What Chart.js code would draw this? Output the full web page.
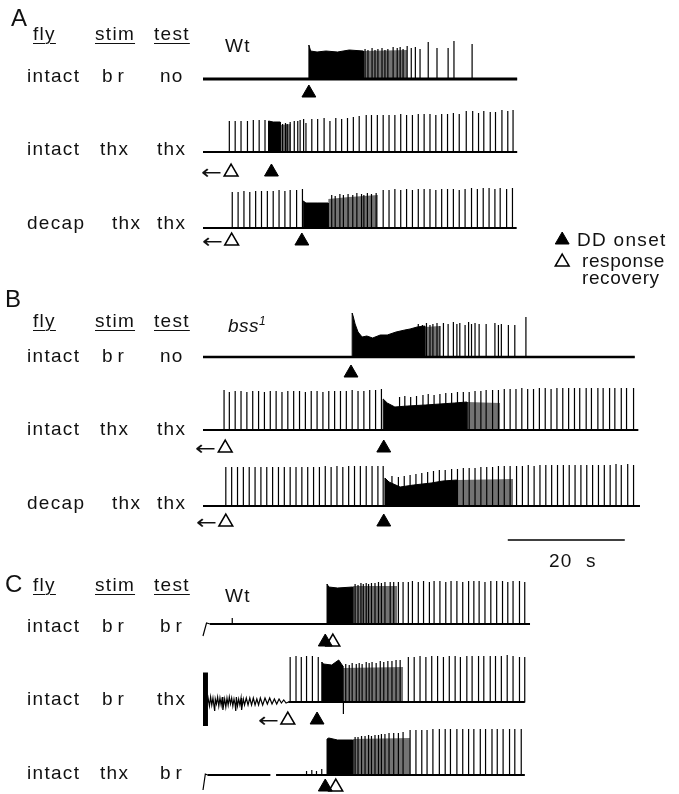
<!DOCTYPE html>
<html>
<head>
<meta charset="utf-8">
<script src="https://cdn.jsdelivr.net/npm/chart.js@4/dist/chart.umd.min.js"></script>
<style>
  html, body { margin: 0; padding: 0; background: #fff; }
  #wrap { position: relative; width: 679px; height: 794px; overflow: hidden; }
  #c { position: absolute; left: 0; top: 0; }
  .t { position: absolute; font-family: "Liberation Sans", Arial, sans-serif; color: #111;
       white-space: nowrap; line-height: 1; letter-spacing: 1.3px; }
  .u { text-decoration: underline; text-underline-offset: 3px; text-decoration-thickness: 1.3px; }
  .it { font-style: italic; letter-spacing: 0.5px; }
  .arrow { font-family: "DejaVu Sans", sans-serif; letter-spacing: 0; transform: scaleX(1.25); transform-origin: left center; }
</style>
</head>
<body>
<div id="wrap"><canvas id="c" width="679" height="794"></canvas></div>
<script>
// time in s from the start of each trace, heights in trace units (up = positive)

// row labels
const rowFly  = ['intact', 'intact', 'decap', 'intact', 'intact', 'decap', 'intact', 'intact', 'intact'];
const rowStim = ['br', 'thx', 'thx', 'br', 'thx', 'thx', 'br', 'br', 'thx'];
const rowTest = ['no', 'thx', 'thx', 'no', 'thx', 'thx', 'br', 'thx', 'br'];
const panels  = ['A', 'B', 'C'];
const genotypes = ['Wt', 'bss', 'Wt'];

// --- A: Wt ---
const a1Burst = [[18.1, 34], [18.4, 28], [19.5, 27], [21, 28], [23, 27], [25, 29], [27.4, 28]];
const a1Grey = [[27.4, 28], [34.9, 29]];
const a1Spikes = [[27.7, 30], [28.2, 29], [28.9, 31], [29.4, 29], [29.9, 30], [30.6, 31], [31.1, 29], [31.6, 30],
  [32.5, 32], [33.2, 31], [33.7, 32], [34.2, 30], [34.9, 33], [35.6, 31], [36.3, 32], [37.1, 30], [38.5, 37],
  [40.0, 31], [41.9, 31], [42.9, 38], [46.0, 35]];

const a2Burst = [[11.2, 31], [12, 30], [13.2, 30]];
const a2Grey = [[13.2, 27], [15.0, 28]];
const a2Spikes = [[4.5, 31], [5.5, 31], [6.5, 31], [7.6, 31], [8.6, 32], [9.6, 32], [10.6, 32], [13.6, 28],
  [14.1, 29], [14.4, 28], [14.9, 30], [15.6, 31], [16.2, 31], [16.6, 32], [17.2, 33], [17.6, 29], [18.6, 33],
  [19.6, 33], [20.7, 34], [21.7, 31], [22.7, 34], [23.7, 33], [24.7, 34], [25.7, 35], [26.7, 36], [27.9, 37],
  [28.8, 37], [29.8, 37], [30.8, 37], [31.8, 37], [32.8, 37], [33.8, 38], [34.8, 37], [35.8, 37], [36.8, 38],
  [37.8, 38], [38.8, 38], [39.8, 37], [40.8, 38], [41.8, 38], [42.8, 39], [43.8, 38], [45.0, 41], [46.1, 41],
  [47.1, 39], [48.0, 41], [49.1, 40], [50.0, 40], [51.1, 42], [52.1, 41], [53.0, 42]];

const a3Burst = [[17.15, 27], [17.6, 25], [19.5, 25], [21.4, 25]];
const a3Grey = [[21.4, 29], [25, 31], [29.9, 33]];
const a3Spikes = [[5.0, 36], [6.0, 36], [7.0, 37], [8.0, 36], [9.0, 37], [10.0, 37], [11.0, 37], [12.0, 37],
  [13.0, 38], [14.0, 37], [14.9, 38], [16.0, 38], [17.0, 39],
  [22.0, 33], [22.6, 32], [23.4, 34], [24.0, 33], [24.8, 34], [25.6, 33], [26.3, 35], [27.1, 34], [27.5, 33],
  [28.1, 35], [28.8, 34], [29.6, 35],
  [30.8, 38], [31.8, 38], [32.8, 39], [33.8, 38], [34.8, 39], [35.8, 38], [36.8, 39], [37.8, 39], [38.8, 39],
  [39.8, 38], [40.8, 39], [41.8, 39], [42.8, 39], [43.8, 38], [44.8, 39], [45.9, 40], [46.9, 39], [47.9, 40],
  [48.9, 40], [49.9, 39], [50.8, 40], [51.9, 39], [52.9, 40]];

// --- B: bss1 ---
const b1Burst = [[25.5, 44], [25.7, 40], [26.0, 33], [26.5, 25], [27.2, 20], [28, 21], [29, 19], [30.3, 22],
  [31.5, 22], [33, 25], [34.5, 27], [35.4, 28], [36.6, 30], [37.9, 31]];
const b1Grey = [[37.9, 30], [40.5, 31]];
const b1Spikes = [[36.8, 33], [37.5, 32], [38.2, 34], [38.8, 32], [39.3, 33], [40.0, 34], [40.5, 31], [41.1, 34],
  [41.9, 33], [42.8, 35], [43.4, 33], [43.9, 34], [44.8, 32], [45.4, 35], [45.9, 33], [46.5, 34], [47.2, 33],
  [48.4, 33], [49.9, 34], [50.5, 32], [51.0, 33], [52.2, 32], [53.3, 32], [55.2, 40]];

const b2Burst = [[30.8, 31], [31.5, 27], [32.8, 23], [35, 24], [38, 25], [40.5, 26], [43, 27], [45.1, 28]];
const b2Grey = [[45.1, 28], [50.8, 27]];
const b2Spikes = [[3.6, 40], [4.5, 38], [5.5, 39], [6.5, 39], [7.5, 38], [8.5, 39], [9.5, 39], [10.5, 38],
  [11.5, 39], [12.5, 39], [13.5, 38], [14.5, 39], [15.5, 39], [16.5, 39], [17.5, 38], [18.5, 39], [19.5, 39],
  [20.5, 38], [21.5, 39], [22.5, 39], [23.5, 39], [24.5, 39], [25.5, 40], [26.5, 39], [27.5, 39], [28.5, 40],
  [29.5, 40], [30.5, 41],
  [33.6, 33], [34.5, 34], [35.5, 33], [36.5, 34], [37.6, 35], [38.5, 36], [39.5, 35], [40.5, 36], [41.5, 37],
  [42.5, 37], [43.5, 38], [44.5, 38], [45.5, 38], [46.5, 39], [47.5, 39], [48.4, 40], [49.5, 40], [50.5, 40],
  [51.5, 41], [52.5, 41], [53.5, 41], [54.5, 42], [55.5, 41], [56.5, 41], [57.5, 42], [58.5, 42], [59.5, 41],
  [60.5, 42], [61.5, 42], [62.5, 42], [63.5, 42], [64.4, 42], [65.5, 42], [66.4, 42], [67.5, 42], [68.4, 42],
  [69.5, 42], [70.4, 42], [71.5, 42], [72.4, 42], [73.6, 42]];

const b3Burst = [[31.1, 28], [31.8, 24], [33.7, 19], [36, 21], [39, 23], [41, 25], [43.4, 26]];
const b3Grey = [[43.4, 26], [53.0, 27]];
const b3Spikes = [[3.9, 39], [4.9, 39], [5.9, 39], [6.9, 39], [7.9, 39], [8.9, 39], [9.9, 39], [10.9, 39],
  [11.9, 39], [12.9, 39], [13.9, 39], [14.9, 39], [15.9, 39], [16.9, 39], [17.9, 39], [18.9, 39], [19.9, 39],
  [20.9, 40], [21.9, 39], [22.9, 40], [23.9, 39], [24.9, 40], [25.9, 40], [26.9, 40], [27.9, 40], [28.9, 40],
  [29.9, 40], [30.8, 40],
  [32.3, 30], [33.4, 29], [34.4, 30], [35.4, 31], [36.4, 32], [37.4, 33], [38.4, 34], [39.4, 35], [40.4, 36],
  [41.4, 36], [42.5, 37], [43.5, 37], [44.5, 38], [45.5, 38], [46.5, 38], [47.5, 39], [48.5, 39], [49.5, 39],
  [50.5, 40], [51.5, 40], [52.5, 40],
  [53.6, 40], [54.6, 40], [55.6, 41], [56.6, 40], [57.6, 41], [58.6, 41], [59.6, 41], [60.6, 41], [61.6, 41],
  [62.6, 41], [63.6, 41], [64.6, 41], [65.6, 41], [66.6, 41], [67.6, 41], [68.6, 41], [69.6, 41], [70.6, 42],
  [71.5, 41], [72.6, 42], [73.6, 41]];

// --- C: Wt, response recovery ---
const c1Lead = [[0, -12], [0.6, 1], [1.2, 0]];
const c1Burst = [[21.2, 40], [21.5, 37], [23, 36], [25.6, 37]];
const c1Grey = [[25.6, 38], [33.2, 38]];
const c1Spikes = [[5.0, 6],
  [26.0, 40], [26.5, 39], [27.0, 41], [27.4, 40], [27.9, 41], [28.3, 40], [28.8, 41], [29.4, 41], [30.0, 42],
  [30.5, 41], [31.1, 42], [32.0, 42], [32.6, 42], [33.4, 42],
  [34.2, 42], [35.1, 42], [35.8, 43], [36.8, 42], [37.7, 43], [38.7, 42], [39.5, 43], [40.5, 43], [41.5, 42],
  [42.4, 43], [43.4, 43], [44.4, 42], [45.4, 43], [46.3, 43], [47.2, 43], [48.2, 42], [49.2, 43], [50.2, 43],
  [51.2, 43], [52.1, 42], [53.0, 43], [54.1, 43], [55.0, 42]];

const c2Kick = [[0, 29], [0.85, 29]];
const c2Noise = [[0.9, 3], [1.1, -4], [1.3, 5], [1.5, -3], [1.7, 4], [1.9, -5], [2.0, -9], [2.1, 3], [2.3, -2],
  [2.5, 5], [2.7, -4], [2.9, 4], [3.1, -3], [3.3, 5], [3.4, -8], [3.5, -4], [3.7, 3], [3.9, -5], [4.1, 4],
  [4.3, -3], [4.5, 5], [4.7, -2], [4.9, 4], [5.1, -4], [5.3, 3], [5.5, -3], [5.6, -9], [5.7, 5], [5.9, -4],
  [6.1, 3], [6.3, -3], [6.5, 4], [6.6, -8], [6.7, -4], [6.9, 3], [7.1, -3], [7.4, 4], [7.7, -3], [8.0, 4],
  [8.3, -3], [8.6, 4], [8.9, -3], [9.2, 3], [9.5, -3], [9.8, 4], [10.2, -3], [10.6, 4], [11.0, -2], [11.4, 4],
  [11.8, -2], [12.2, 3], [12.6, -2], [13.0, 3], [13.4, -1], [13.8, 2], [14.2, -1], [14.6, 0]];
const c2Burst = [[20.3, 40], [20.6, 38], [22, 37], [23.2, 42], [23.9, 36]];
const c2Grey = [[23.9, 34], [34.2, 35]];
const c2Spikes = [[14.9, 45], [15.9, 46], [16.8, 45], [17.7, 46], [18.7, 46], [19.7, 45], [24.0, -12],
  [24.4, 38], [25.0, 37], [25.5, 39], [26.2, 38], [26.7, 39], [27.2, 38], [27.9, 40], [28.4, 39], [28.9, 40],
  [29.6, 39], [30.3, 41], [30.9, 40], [31.6, 41], [32.3, 41], [33.0, 42], [33.7, 42],
  [35.1, 45], [36.1, 45], [37.1, 46], [38.1, 45], [39.1, 46], [40.1, 46], [41.1, 45], [42.1, 46], [43.1, 46],
  [44.0, 45], [45.1, 46], [46.0, 46], [47.1, 46], [48.0, 46], [49.1, 46], [50.0, 46], [51.0, 46], [52.0, 47],
  [53.0, 46], [54.1, 45], [55.0, 45]];

const c3Lead = [[0, -15], [0.4, 1], [0.8, 0]];
const c3Burst = [[21.2, 36], [21.5, 37], [23, 35], [25.6, 35]];
const c3Grey = [[25.6, 36], [35.4, 37]];
const c3Spikes = [[17.7, 4], [18.6, 5], [19.4, 4], [20.3, 6],
  [26.0, 38], [26.5, 38], [27.1, 39], [27.7, 39], [28.3, 40], [28.8, 39], [29.4, 40], [30.0, 40], [30.5, 41],
  [31.1, 41], [31.8, 42], [32.6, 42], [33.4, 42], [34.2, 43],
  [35.4, 45], [36.4, 45], [37.4, 45], [38.3, 45], [39.3, 46], [40.4, 46], [41.4, 46], [42.3, 46], [43.4, 46],
  [44.4, 46], [45.4, 46], [46.3, 46], [47.4, 46], [48.3, 46], [49.4, 46], [50.3, 46], [51.3, 46], [52.4, 46],
  [53.3, 46], [54.4, 46]];

// trace lengths and markers (s)
const traceEnd = [53.7, 53.7, 53.6, 73.8, 74.4, 74.7, 55.9, 55.0, 55.0];
const onsetAt = [18.1, 11.7, 16.9, 25.3, 30.9, 30.9, 20.9, 19.5, 20.9];
const recoveryAt = [null, 4.8, 4.9, null, 3.8, 3.9, 22.2, 14.5, 22.7];
const scaleBar = [52.1, 72.1]; // 20 s
const legendAt = 61.4;

// ---------- layout ----------
const PX_PER_S = 5.85;
const X0 = 203;
const rowBase = [79, 152, 228, 357, 430, 506, 624, 702, 775];
const rowMark = [93, 172, 241, 373, 448, 522, 642, 720, 787];
const arrowRows = [1, 2, 4, 5, 7];

const traces = [
  { burst: a1Burst, grey: a1Grey, spikes: a1Spikes, bw: 3 },
  { burst: a2Burst, grey: a2Grey, spikes: a2Spikes },
  { burst: a3Burst, grey: a3Grey, spikes: a3Spikes },
  { burst: b1Burst, grey: b1Grey, spikes: b1Spikes, bw: 2.6 },
  { burst: b2Burst, grey: b2Grey, spikes: b2Spikes },
  { burst: b3Burst, grey: b3Grey, spikes: b3Spikes },
  { burst: c1Burst, grey: c1Grey, spikes: c1Spikes, lead: c1Lead },
  { burst: c2Burst, grey: c2Grey, spikes: c2Spikes, kick: c2Kick, noise: c2Noise },
  { burst: c3Burst, grey: c3Grey, spikes: c3Spikes, lead: c3Lead, gap: [11.5, 12.5] }
];

function envelope(b, pts) {
  const out = [{ x: pts[0][0], y: b }];
  pts.forEach(([t, a]) => out.push({ x: t, y: b - a }));
  out.push({ x: pts[pts.length - 1][0], y: b });
  return out;
}

function tracePath(tr, b, end) {
  const ev = [];
  tr.spikes.forEach(([t, a]) => ev.push({ t, pts: [{ x: t, y: b }, { x: t, y: b - a }, { x: t, y: b }] }));
  (tr.noise || []).forEach(([t, a]) => ev.push({ t, pts: [{ x: t, y: b - a }] }));
  if (tr.gap) ev.push({ t: tr.gap[0], pts: [{ x: tr.gap[0], y: b }, { x: tr.gap[0] + 0.01, y: null }, { x: tr.gap[1], y: b }] });
  ev.sort((p, q) => p.t - q.t);
  const out = [];
  (tr.lead || [[0, 0]]).forEach(([t, a]) => out.push({ x: t, y: b - a }));
  if (tr.kick) out.push({ x: tr.kick[1][0], y: b });
  ev.forEach(e => out.push(...e.pts));
  out.push({ x: end, y: b });
  return out;
}

const datasets = [];
traces.forEach((tr, i) => {
  const b = rowBase[i], end = traceEnd[i];
  datasets.push({ data: envelope(b, tr.grey), fill: { value: b }, backgroundColor: 'rgba(0,0,0,0.55)',
    borderWidth: 0, pointRadius: 0 });
  datasets.push({ data: envelope(b, tr.burst), fill: { value: b }, backgroundColor: '#000',
    borderColor: '#000', borderWidth: 1, pointRadius: 0 });
  if (tr.kick) {
    datasets.push({ data: tr.kick.map(([t, a]) => ({ x: t, y: b - a })), fill: { value: b + 24 },
      backgroundColor: '#000', borderColor: '#000', borderWidth: 1, pointRadius: 0 });
  }
  datasets.push({ data: tracePath(tr, b, end), borderColor: '#000', borderWidth: 1.2, pointRadius: 0,
    fill: false, spanGaps: false });
  // thicker baseline
  const from = tr.noise ? 14.6 : (tr.lead ? tr.lead[tr.lead.length - 1][0] : 0);
  const base = tr.gap
    ? [{ x: from, y: b }, { x: tr.gap[0], y: b }, { x: tr.gap[0] + 0.01, y: null }, { x: tr.gap[1], y: b }, { x: end, y: b }]
    : [{ x: from, y: b }, { x: end, y: b }];
  datasets.push({ data: base, borderColor: '#000', borderWidth: tr.bw || 2, pointRadius: 0, fill: false,
    spanGaps: false });
});

// markers
const onsetPts = onsetAt.map((t, i) => ({ x: t, y: rowMark[i] }));
onsetPts.push({ x: legendAt, y: 240 });
const recPts = recoveryAt.map((t, i) => t == null ? null : ({ x: t, y: rowMark[i] })).filter(Boolean);
recPts.push({ x: legendAt, y: 262 });
datasets.push({ data: onsetPts, showLine: false, pointStyle: 'triangle', pointRadius: 8,
  pointBackgroundColor: '#000', pointBorderColor: '#000', pointBorderWidth: 1 });
datasets.push({ data: recPts, showLine: false, pointStyle: 'triangle', pointRadius: 8,
  pointBackgroundColor: '#fff', pointBorderColor: '#000', pointBorderWidth: 1.5 });
// scale bar
datasets.push({ data: scaleBar.map(t => ({ x: t, y: 540 })), borderColor: '#000', borderWidth: 1.6,
  pointRadius: 0, fill: false });

datasets.forEach(d => { d.clip = false; d.tension = 0; });

const chart = new Chart(document.getElementById('c'), {
  type: 'line',
  data: { datasets },
  options: {
    responsive: false, animation: false, devicePixelRatio: 1,
    parsing: false, normalized: true,
    layout: { padding: 0, autoPadding: false },
    plugins: { legend: { display: false }, tooltip: { enabled: false } },
    events: [],
    scales: {
      x: { type: 'linear', display: false, min: -X0 / PX_PER_S, max: (679 - X0) / PX_PER_S },
      y: { type: 'linear', display: false, min: 0, max: 794, reverse: true }
    }
  }
});

// ---------- text ----------
const wrap = document.getElementById('wrap');
function put(html, x, baseline, size, cls) {
  const d = document.createElement('div');
  d.className = 't ' + (cls || '');
  d.innerHTML = html;
  d.style.left = x + 'px';
  d.style.fontSize = size + 'px';
  d.style.top = (baseline - 0.85 * size) + 'px';
  wrap.appendChild(d);
  return d;
}

const panelLetterPos = [[11, 26], [5, 307], [5, 592]];
const headY = [40, 327, 591];
const genoPos = [[225, 52], [228, 331], [225, 602]];
panels.forEach((p, k) => {
  put(p, panelLetterPos[k][0], panelLetterPos[k][1], 24, '');
  put('fly', 33, headY[k], 19, 'u');
  put('stim', 95, headY[k], 19, 'u');
  put('test', 154, headY[k], 19, 'u');
  const g = genotypes[k] === 'bss' ? 'bss<sup style="font-size:12px">1</sup>' : genotypes[k];
  put(g, genoPos[k][0], genoPos[k][1], 19, genotypes[k] === 'bss' ? 'it' : '');
});

const rowTextY = [82, 155, 229, 362, 435, 509, 632, 705, 779];
rowFly.forEach((s, i) => {
  put(s, 27, rowTextY[i], 19, '');
  const stim = rowStim[i];
  const sx = rowFly[i] === 'decap' ? 112 : (stim === 'br' ? 102 : 100);
  put(stim, sx, rowTextY[i], 19, '').style.letterSpacing = stim === 'br' ? '5px' : '1.3px';
  const test = rowTest[i];
  const tx = test === 'thx' ? 157 : 160;
  put(test, tx, rowTextY[i], 19, '').style.letterSpacing = test === 'br' ? '5px' : '1.3px';
});

put('DD onset', 577, 246, 19, '');
put('response', 582, 267, 19, '').style.letterSpacing = '0.6px';
put('recovery', 582, 284, 19, '').style.letterSpacing = '0.6px';
put('20&nbsp; s', 549, 567, 19, '');

// arrows in front of the open triangles
arrowRows.forEach(i => {
  const px = chart.scales.x.getPixelForValue(recoveryAt[i]);
  put('\u2190', px - 30, rowMark[i] + 7, 20, 'arrow');
});
</script>
</body>
</html>
